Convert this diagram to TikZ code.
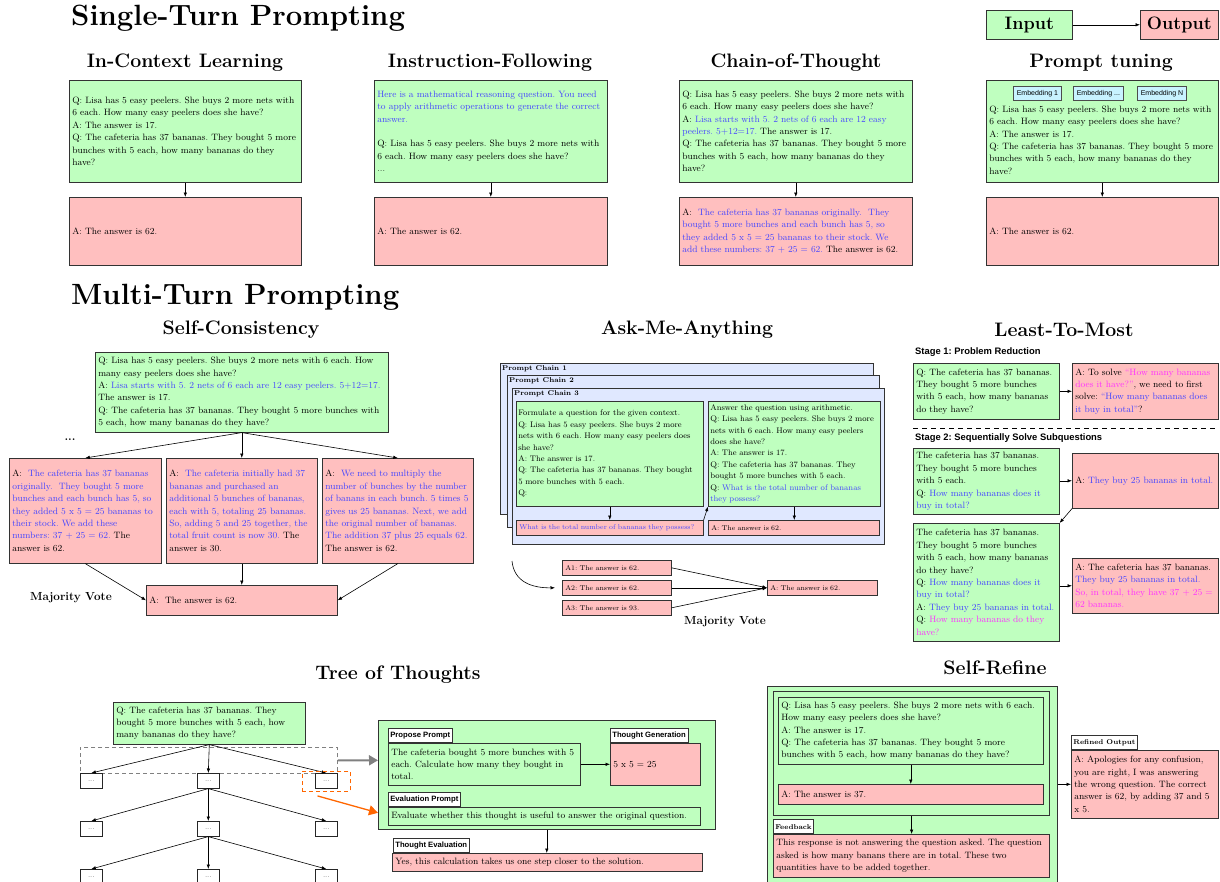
\documentclass[tikz,border=0pt]{standalone}
\usepackage{fontspec}
\usepackage{tikz}
\usetikzlibrary{arrows.meta}
\definecolor{qgreen}{RGB}{191, 255, 191}
\definecolor{apink}{RGB}{255, 191, 191}
\definecolor{qblue}{RGB}{70, 70, 255}
\definecolor{qmag}{RGB}{255, 50, 255}
\definecolor{chainbg}{RGB}{224, 232, 255}
\definecolor{embedbg}{RGB}{200, 242, 255}
\definecolor{pickorange}{RGB}{255, 102, 0}
\newfontfamily\tagsans{Liberation Sans}
\newcommand{\headfont}{\fontsize{29.3}{33}\selectfont\bfseries}
\newcommand{\subheadfont}{\fontsize{19.5}{23}\selectfont\bfseries}
\newcommand{\iofont}{\fontsize{18}{20}\selectfont\bfseries}
\newcommand{\boxfont}{\fontsize{9.2}{12.4}\selectfont}
\newcommand{\totfont}{\fontsize{9.2}{11.7}\selectfont}
\newcommand{\amafont}{\fontsize{8.1}{11.4}\selectfont}
\newcommand{\ansfont}{\fontsize{6.95}{9}\selectfont}
\newcommand{\votefont}{\fontsize{11.7}{14}\selectfont\bfseries}
\newcommand{\tagfont}{\tagsans\fontsize{7.7}{9}\selectfont\bfseries}
\newcommand{\stagefont}{\tagsans\fontsize{9.4}{11}\selectfont\bfseries}
\newcommand{\embfont}{\tagsans\fontsize{7}{8}\selectfont}
\newcommand{\chainfont}{\fontsize{7}{8}\selectfont\bfseries}
\newcommand{\dotfont}{\fontsize{6}{7}\selectfont}
\newcommand{\qb}[1]{\textcolor{qblue}{#1}}
\newcommand{\qm}[1]{\textcolor{qmag}{#1}}

\tikzset{
  pbox/.style={draw=black!80, line width=0.6pt, anchor=north west, align=left,
    inner xsep=3pt, inner ysep=0pt, font=\boxfont},
  qbox/.style={pbox, fill=qgreen},
  abox/.style={pbox, fill=apink},
  heading/.style={anchor=west, inner sep=0pt, font=\headfont},
  subhead/.style={inner sep=0pt, font=\subheadfont},
  tag/.style={draw=black!80, line width=0.6pt, fill=white, anchor=south west,
    inner xsep=2pt, inner ysep=0pt, minimum height=14pt, font=\tagfont},
  stag/.style={tag, font=\chainfont},
  embed/.style={draw=black!70, line width=0.5pt, fill=embedbg, anchor=north west,
    inner xsep=3.5pt, inner ysep=0pt, minimum height=14pt, font=\embfont},
  chain/.style={draw=black!80, line width=0.7pt, fill=chainbg, anchor=north west},
  chaintag/.style={anchor=north west, inner sep=2pt, font=\chainfont},
  dotbox/.style={draw=black!85, line width=0.6pt, fill=white, anchor=north west,
    minimum width=22pt, minimum height=15pt, inner sep=0pt, font=\dotfont},
  arr/.style={-{Latex[length=4.5pt, width=3.5pt]}, line width=0.6pt},
  vote/.style={inner sep=0pt, font=\votefont}
}

\begin{document}
\frenchspacing
\begin{tikzpicture}[x=1pt, y=-1pt]
  \useasboundingbox (0, 0) rectangle (1220, 881);

  % ---------------- single-turn prompting ----------------
  \node[heading] (singlehead) at (71, 18) {Single-Turn Prompting};

  \node[qbox, minimum width=86pt, minimum height=29pt, font=\iofont] (inp) at (986, 10) {Input};
  \node[abox, minimum width=78pt, minimum height=29pt, font=\iofont] (outp) at (1140, 10) {Output};
  \draw[arr] (inp) -- (outp);

  \node[subhead] (iclhead) at (185, 63) {In-Context Learning};
  \node[subhead] (ifhead) at (490, 63) {Instruction-Following};
  \node[subhead] (cothead) at (796, 63) {Chain-of-Thought};
  \node[subhead] (pthead) at (1101, 63) {Prompt tuning};

  \node[qbox, text width=226pt, minimum height=102pt] (iclq) at (69, 80)
    {Q: Lisa has 5 easy peelers. She buys 2 more nets with\\
     6 each. How many easy peelers does she have?\\
     A: The answer is 17.\\
     Q: The cafeteria has 37 bananas. They bought 5 more\\
     bunches with 5 each, how many bananas do they\\
     have?};
  \node[abox, text width=226pt, minimum height=68pt] (icla) at (69, 197) {A: The answer is 62.};
  \draw[arr] (iclq) -- (icla);

  \node[qbox, text width=227pt, minimum height=102pt] (ifq) at (374, 80)
    {\qb{Here is a mathematical reasoning question. You need}\\
     \qb{to apply arithmetic operations to generate the correct}\\
     \qb{answer.}\\[12.4pt]
     Q: Lisa has 5 easy peelers. She buys 2 more nets with\\
     6 each. How many easy peelers does she have?\\
     ...};
  \node[abox, text width=227pt, minimum height=68pt] (ifa) at (374, 197) {A: The answer is 62.};
  \draw[arr] (ifq) -- (ifa);

  \node[qbox, text width=227pt, minimum height=102pt] (cotq) at (679, 80)
    {Q: Lisa has 5 easy peelers. She buys 2 more nets with\\
     6 each. How many easy peelers does she have?\\
     A: \qb{Lisa starts with 5. 2 nets of 6 each are 12 easy}\\
     \qb{peelers. 5+12=17.} The answer is 17.\\
     Q: The cafeteria has 37 bananas. They bought 5 more\\
     bunches with 5 each, how many bananas do they\\
     have?};
  \node[abox, text width=227pt, minimum height=68pt] (cota) at (679, 197)
    {A:~~\qb{The cafeteria has 37 bananas originally.~~They}\\
     \qb{bought 5 more bunches and each bunch has 5, so}\\
     \qb{they added 5 x 5 $=$ 25 bananas to their stock. We}\\
     \qb{add these numbers: 37 $+$ 25 $=$ 62.} The answer is 62.};
  \draw[arr] (cotq) -- (cota);

  \node[qbox, text width=226pt, minimum height=102pt] (ptq) at (986, 80)
    {\mbox{}\\[11.6pt]
     Q: Lisa has 5 easy peelers. She buys 2 more nets with\\
     6 each. How many easy peelers does she have?\\
     A: The answer is 17.\\
     Q: The cafeteria has 37 bananas. They bought 5 more\\
     bunches with 5 each, how many bananas do they\\
     have?};
  \node[embed] (emb1) at (1013, 86) {Embedding 1};
  \node[embed] (emb2) at (1073, 86) {Embedding ...};
  \node[embed] (emb3) at (1137, 86) {Embedding N};
  \node[abox, text width=226pt, minimum height=68pt] (pta) at (986, 197) {A: The answer is 62.};
  \draw[arr] (ptq) -- (pta);

  % ---------------- multi-turn prompting ----------------
  \node[heading] (multihead) at (71, 297) {Multi-Turn Prompting};

  % self-consistency
  \node[subhead] (schead) at (241, 330) {Self-Consistency};
  \node[qbox, text width=287pt, minimum height=80pt] (scq) at (95, 352)
    {Q: Lisa has 5 easy peelers. She buys 2 more nets with 6 each. How\\
     many easy peelers does she have?\\
     A: \qb{Lisa starts with 5. 2 nets of 6 each are 12 easy peelers. 5+12=17.}\\
     The answer is 17.\\
     Q: The cafeteria has 37 bananas. They bought 5 more bunches with\\
     5 each, how many bananas do they have?};
  \node[inner sep=0pt, font=\votefont] (scdots) at (70, 440) {\textbf{...}};
  \node[abox, text width=146pt, minimum height=105pt] (sca1) at (9, 458)
    {A:~~\qb{The cafeteria has 37 bananas}\\
     \qb{originally.~~They bought 5 more}\\
     \qb{bunches and each bunch has 5, so}\\
     \qb{they added 5 x 5 $=$ 25 bananas to}\\
     \qb{their stock. We add these}\\
     \qb{numbers: 37 $+$ 25 $=$ 62.} The\\
     answer is 62.};
  \node[abox, text width=145pt, minimum height=105pt] (sca2) at (166, 458)
    {A:~~\qb{The cafeteria initially had 37}\\
     \qb{bananas and purchased an}\\
     \qb{additional 5 bunches of bananas,}\\
     \qb{each with 5, totaling 25 bananas.}\\
     \qb{So, adding 5 and 25 together, the}\\
     \qb{total fruit count is now 30.} The\\
     answer is 30.};
  \node[abox, text width=145pt, minimum height=105pt] (sca3) at (322, 458)
    {A:~~\qb{We need to multiply the}\\
     \qb{number of bunches by the number}\\
     \qb{of banans in each bunch. 5 times 5}\\
     \qb{gives us 25 bananas. Next, we add}\\
     \qb{the original number of bananas.}\\
     \qb{The addition 37 plus 25 equals 62.}\\
     The answer is 62.};
  \node[abox, text width=185pt, minimum height=30pt] (scv) at (146, 585) {A:~~The answer is 62.};
  \node[vote] (scvote) at (71, 598) {Majority Vote};
  \draw[arr] (scq.south) -- (sca1.north);
  \draw[arr] (scq.south) -- (sca2.north);
  \draw[arr] (scq.south) -- (sca3.north);
  \draw[arr] (sca1.south) -- (scv.west);
  \draw[arr] (sca2.south) -- (scv.north);
  \draw[arr] (sca3.south) -- (scv.east);

  % ask-me-anything
  \node[subhead] (amahead) at (687, 330) {Ask-Me-Anything};
  \node[chain, minimum width=373pt, minimum height=151pt,
    label={[chaintag]north west:Prompt Chain 1}] (chain1) at (500, 363) {};
  \node[chain, minimum width=372pt, minimum height=152pt,
    label={[chaintag]north west:Prompt Chain 2}] (chain2) at (507, 375) {};
  \node[chain, minimum width=372pt, minimum height=156pt,
    label={[chaintag]north west:Prompt Chain 3}] (chain3) at (512, 388) {};
  \node[qbox, font=\amafont, inner xsep=2pt, text width=183pt, minimum height=105pt] (amaq1) at (516, 401)
    {Formulate a question for the given context.\\
     Q: Lisa has 5 easy peelers. She buys 2 more\\
     nets with 6 each. How many easy peelers does\\
     she have?\\
     A: The answer is 17.\\
     Q: The cafeteria has 37 bananas. They bought\\
     5 more bunches with 5 each.\\
     Q:};
  \node[qbox, font=\amafont, inner xsep=2pt, text width=168pt, minimum height=105pt] (amaq2) at (708, 401)
    {Answer the question using arithmetic.\\
     Q: Lisa has 5 easy peelers. She buys 2 more\\
     nets with 6 each. How many easy peelers\\
     does she have?\\
     A: The answer is 17.\\
     Q: The cafeteria has 37 bananas. They\\
     bought 5 more bunches with 5 each.\\
     Q: \qb{What is the total number of bananas}\\
     \qb{they possess?}};
  \node[abox, font=\ansfont, text width=181pt, minimum height=15pt] (amaa1) at (516, 520)
    {\qb{What is the total number of bananas they possess?}};
  \node[abox, font=\ansfont, text width=165pt, minimum height=15pt] (amaa2) at (708, 520)
    {A: The answer is 62.};
  \draw[arr] (amaq1.south) -- (amaq1.south |- amaa1.north);
  \draw[arr] (amaa1.north east) -- (amaq2.south west);
  \draw[arr] (amaq2.south) -- (amaq2.south |- amaa2.north);

  \node[abox, font=\ansfont, text width=103pt, minimum height=15pt] (ama1) at (562, 560) {A1: The answer is 62.};
  \node[abox, font=\ansfont, text width=103pt, minimum height=15pt] (ama2) at (562, 580) {A2: The answer is 62.};
  \node[abox, font=\ansfont, text width=103pt, minimum height=15pt] (ama3) at (562, 600) {A3: The answer is 93.};
  \node[abox, font=\ansfont, text width=104pt, minimum height=15pt] (amares) at (767, 580) {A: The answer is 62.};
  \node[vote] (amavote) at (725, 622) {Majority Vote};
  \coordinate (amafrom) at (512, 561);
  \draw[arr] (amafrom) .. controls (514, 582) and (532, 588) .. ([xshift=-7pt]ama2.west);
  \draw[arr] (ama1.east) -- (amares.west);
  \draw[arr] (ama2.east) -- (amares.west);
  \draw[arr] (ama3.east) -- (amares.west);

  % least-to-most
  \node[subhead] (ltmhead) at (1064, 330) {Least-To-Most};
  \node[anchor=west, inner sep=0pt, font=\stagefont] (stage1) at (915, 352) {Stage 1: Problem Reduction};
  \node[qbox, text width=140pt, minimum height=56pt] (ltmq1) at (913, 363)
    {Q: The cafeteria has 37 bananas.\\
     They bought 5 more bunches\\
     with 5 each, how many bananas\\
     do they have?};
  \node[abox, text width=140pt, minimum height=56pt] (ltma1) at (1072, 363)
    {A: To solve \qm{``How many bananas}\\
     \qm{does it have?''}, we need to first\\
     solve: \qb{``How many bananas does}\\
     \qb{it buy in total''}?};
  \draw[arr] (ltmq1) -- (ltma1);
  \draw[dash pattern=on 5pt off 4pt, line width=0.7pt] (913, 428) -- (1216, 428);
  \node[anchor=west, inner sep=0pt, font=\stagefont] (stage2) at (915, 438) {Stage 2: Sequentially Solve Subquestions};
  \node[qbox, text width=140pt, minimum height=66pt] (ltmq2) at (913, 448)
    {The cafeteria has 37 bananas.\\
     They bought 5 more bunches\\
     with 5 each.\\
     Q: \qb{How many bananas does it}\\
     \qb{buy in total?}};
  \node[abox, text width=140pt, minimum height=55pt] (ltma2) at (1072, 453)
    {A: \qb{They buy 25 bananas in total.}};
  \node[qbox, text width=140pt, minimum height=118pt] (ltmq3) at (913, 523)
    {The cafeteria has 37 bananas.\\
     They bought 5 more bunches\\
     with 5 each, how many bananas\\
     do they have?\\
     Q: \qb{How many bananas does it}\\
     \qb{buy in total?}\\
     A: \qb{They buy 25 bananas in total.}\\
     Q: \qm{How many bananas do they}\\
     \qm{have?}};
  \node[abox, text width=140pt, minimum height=55pt] (ltma3) at (1072, 558)
    {A: The cafeteria has 37 bananas.\\
     \qb{They buy 25 bananas in total.}\\
     \qm{So, in total, they have 37 $+$ 25 $=$}\\
     \qm{62 bananas.}};
  \draw[arr] (ltmq2.east |- ltma2.west) -- (ltma2.west);
  \draw[arr] (ltma2.south west) -- (ltmq3.north east);
  \draw[arr] (ltmq3.east |- ltma3.west) -- (ltma3.west);

  % tree of thoughts
  \node[subhead] (tothead) at (398, 675) {Tree of Thoughts};
  \node[qbox, font=\totfont, text width=186pt, minimum height=42pt] (totq) at (113, 702)
    {Q: The cafeteria has 37 bananas. They\\
     bought 5 more bunches with 5 each, how\\
     many bananas do they have?};
  \node[draw=black!50, dash pattern=on 4pt off 3pt, line width=0.8pt, anchor=north west,
    minimum width=257pt, minimum height=26pt] (level) at (80, 747) {};
  \foreach \lv/\yy in {1/773, 2/821, 3/869} {
    \node[dotbox] (t\lv-l) at (80, \yy) {...};
    \node[dotbox] (t\lv-m) at (197, \yy) {...};
    \node[dotbox] (t\lv-r) at (315, \yy) {...};
  }
  \foreach \s in {l, m, r} {
    \draw[arr] (totq.south) -- (t1-\s.north);
    \draw[arr] (t1-m.south) -- (t2-\s.north);
    \draw[arr] (t2-m.south) -- (t3-\s.north);
  }
  \node[draw=pickorange, dash pattern=on 4pt off 3pt, line width=0.9pt, anchor=north west,
    minimum width=48pt, minimum height=20pt] (pick) at (302, 771) {};

  \node[qbox, minimum width=337pt, minimum height=109pt] (thinkbox) at (378, 720) {};
  \node[qbox, font=\totfont, text width=186pt, minimum height=42pt] (propq) at (388, 743)
    {The cafeteria bought 5 more bunches with 5\\
     each. Calculate how many they bought in\\
     total.};
  \node[tag] (proptag) at (propq.north west) {Propose Prompt};
  \node[abox, font=\totfont, text width=84pt, minimum height=42pt] (gena) at (610, 743)
    {5 x 5 $=$ 25};
  \node[tag] (gentag) at (gena.north west) {Thought Generation};
  \draw[arr] (propq) -- (gena);
  \node[qbox, font=\totfont, text width=306pt, minimum height=18pt] (evalq) at (388, 807)
    {Evaluate whether this thought is useful to answer the original question.};
  \node[tag] (evaltag) at (evalq.north west) {Evaluation Prompt};
  \node[abox, font=\totfont, text width=304pt, minimum height=18pt] (evala) at (392, 853)
    {Yes, this calculation takes us one step closer to the solution.};
  \node[tag] (evaltag2) at ([xshift=1pt]evala.north west) {Thought Evaluation};
  \draw[arr] (thinkbox.south) -- (thinkbox.south |- evala.north);

  \draw[draw=black!50, line width=2pt, -{Triangle[length=9pt, width=10pt]}]
    (level.east) -- ([yshift=14.5pt]thinkbox.west);
  \draw[draw=pickorange, line width=1.3pt, -{Triangle[length=9pt, width=10pt]}]
    ([xshift=-9pt, yshift=-4pt]pick.south) -- ([yshift=-38pt]thinkbox.west);

  % self-refine
  \node[subhead] (srhead) at (995, 668) {Self-Refine};
  \node[qbox, minimum width=290pt, minimum height=200pt] (srouter) at (767, 686) {};
  \node[qbox, line width=1.2pt, minimum width=276pt, minimum height=124pt] (srinner) at (773, 691) {};
  \node[qbox, text width=259pt, minimum height=67pt] (srq) at (778, 697)
    {Q: Lisa has 5 easy peelers. She buys 2 more nets with 6 each.\\
     How many easy peelers does she have?\\
     A: The answer is 17.\\
     Q: The cafeteria has 37 bananas. They bought 5 more\\
     bunches with 5 each, how many bananas do they have?};
  \node[abox, text width=259pt, minimum height=20pt] (sra) at (778, 784) {A: The answer is 37.};
  \draw[arr] (srq) -- (sra);
  \node[abox, text width=270pt, minimum height=43pt] (srfb) at (773, 834)
    {This response is not answering the question asked. The question\\
     asked is how many banans there are in total. These two\\
     quantities have to be added together.};
  \node[stag] (fbtag) at (srfb.north west) {Feedback};
  \draw[arr] (srinner.south) -- (srinner.south |- srfb.north);
  \node[abox, text width=141pt, minimum height=68pt] (srout) at (1071, 750)
    {A: Apologies for any confusion,\\
     you are right, I was answering\\
     the wrong question. The correct\\
     answer is 62, by adding 37 and 5\\
     x 5.};
  \node[stag] (outtag) at (srout.north west) {Refined Output};
  \draw[arr] (srout.west -| srouter.east) -- (srout.west);

\end{tikzpicture}
\end{document}
